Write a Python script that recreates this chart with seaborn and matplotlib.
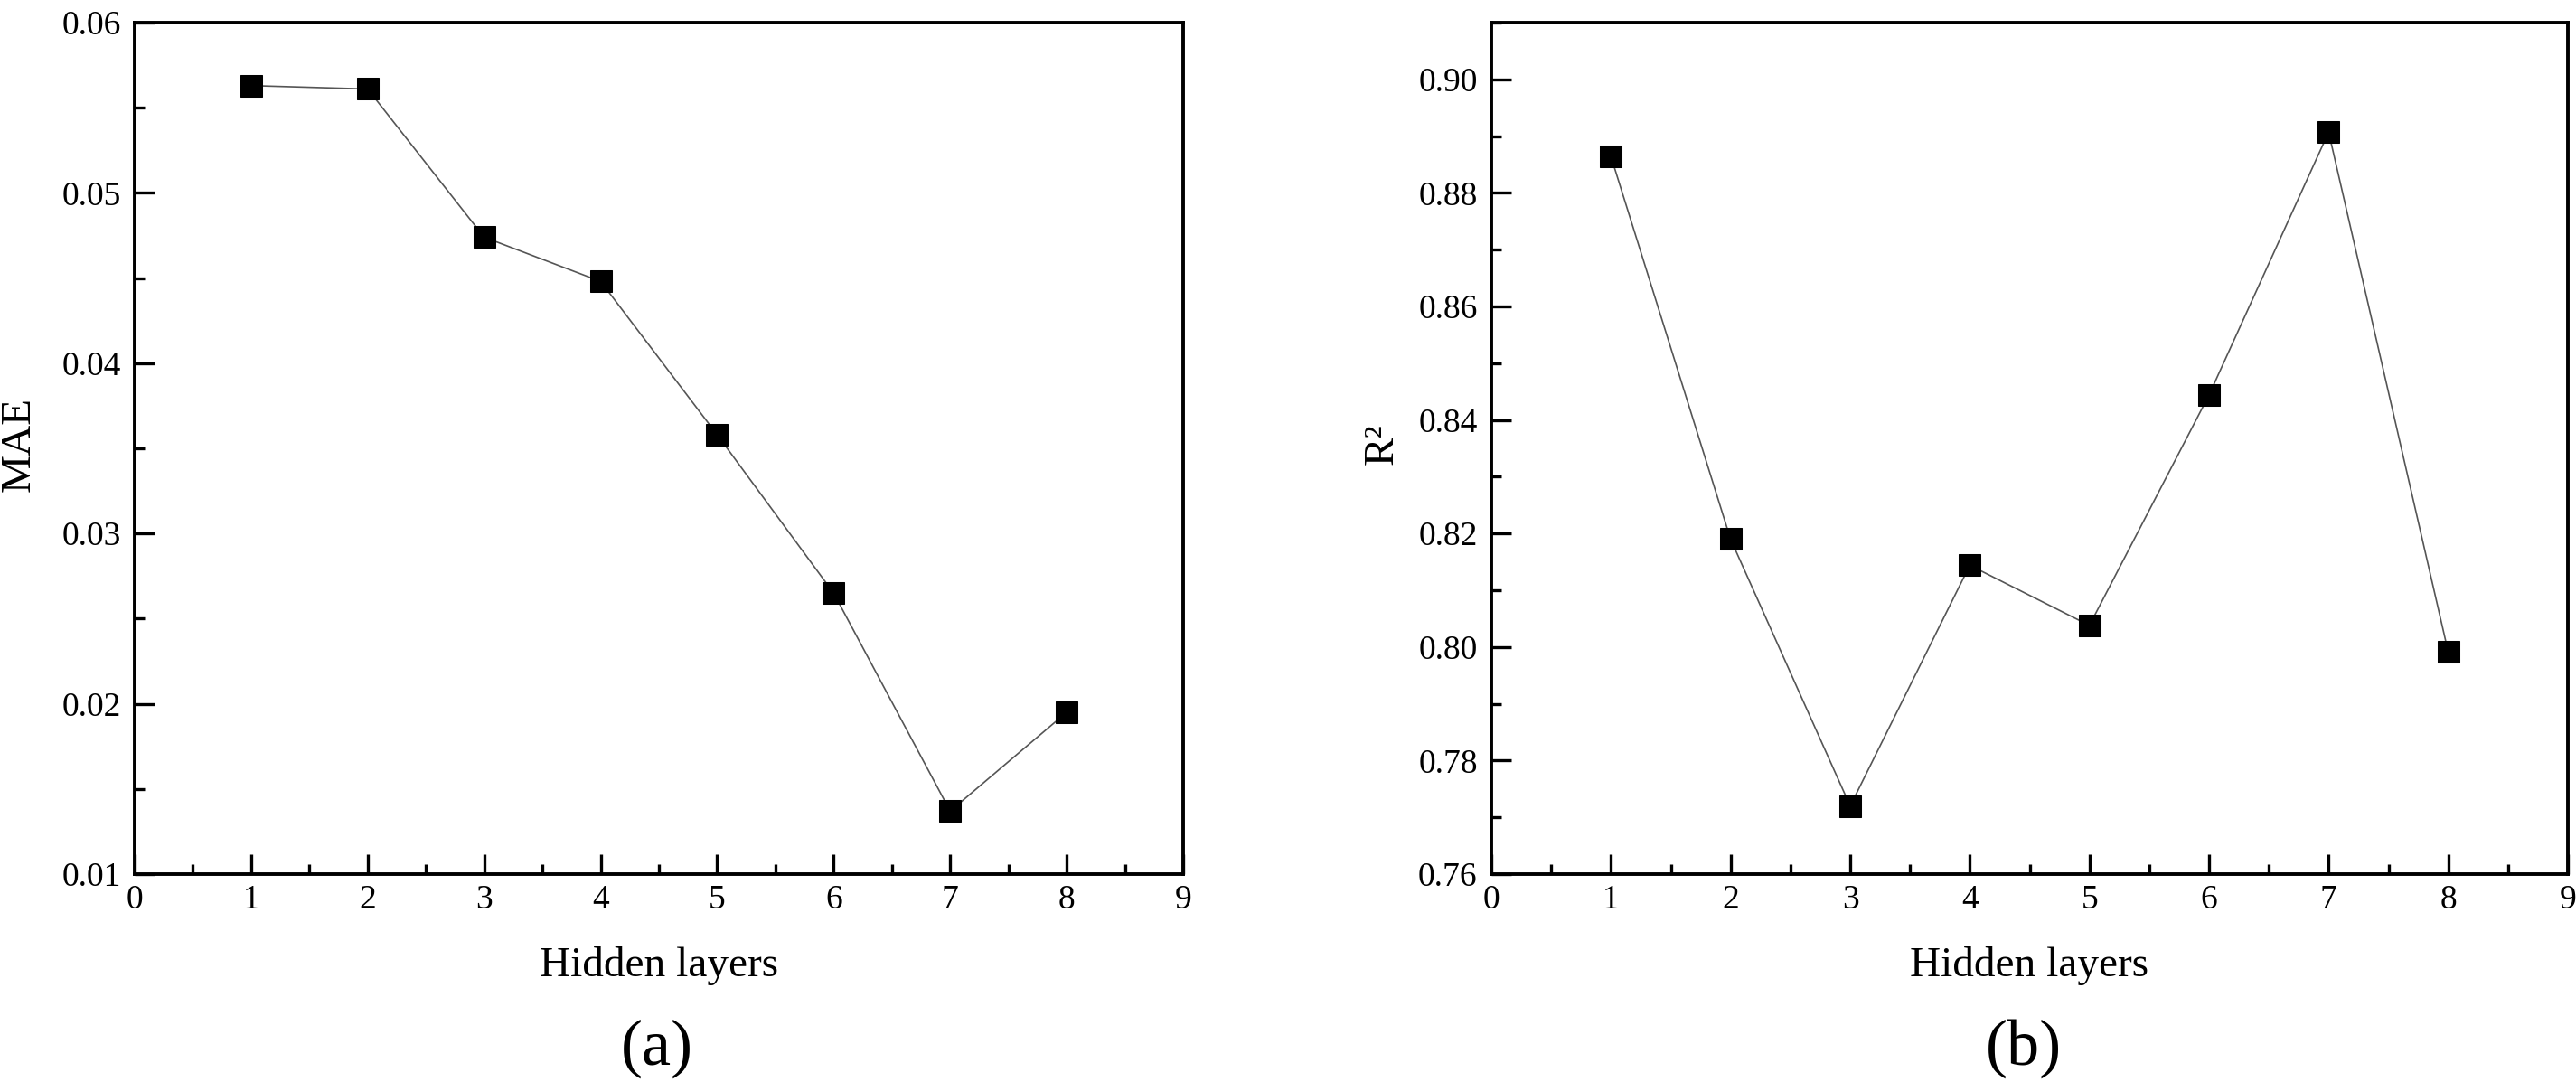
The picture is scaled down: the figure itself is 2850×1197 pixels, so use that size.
"""
Hidden layers vs MAE / R2 - two panel line chart, saved to out.png
"""

import pandas as pd
import matplotlib.pyplot as plt
from matplotlib.ticker import MultipleLocator
import seaborn as sns

layers = [1, 2, 3, 4, 5, 6, 7, 8]
mae = [0.0563, 0.0561, 0.0474, 0.0448, 0.0358, 0.0265, 0.0137, 0.0195]
r2 = [0.8864, 0.8190, 0.7720, 0.8144, 0.8038, 0.8444, 0.8907, 0.7991]

sns.set_style("ticks")
plt.rcParams["font.family"] = ["Liberation Serif", "DejaVu Serif"]
plt.rcParams["text.color"] = "black"
plt.rcParams["axes.labelcolor"] = "black"

df = pd.DataFrame({"layers": layers, "MAE": mae, "R2": r2})

W, H = 2850, 1197
fig = plt.figure(figsize=(W / 100, H / 100), dpi=100)


def px_axes(x0, y0, x1, y1):
    return fig.add_axes([x0 / W, 1 - y1 / H, (x1 - x0) / W, (y1 - y0) / H])


def style_axes(ax, ymin, ymax, ymajor, yfmt):
    ax.set_xlim(0, 9)
    ax.set_ylim(ymin, ymax)
    ax.xaxis.set_major_locator(MultipleLocator(1))
    ax.xaxis.set_minor_locator(MultipleLocator(0.5))
    ax.yaxis.set_major_locator(MultipleLocator(ymajor))
    ax.yaxis.set_minor_locator(MultipleLocator(ymajor / 2))
    ax.yaxis.set_major_formatter(yfmt)
    ax.tick_params(which="both", direction="in", top=False, right=False,
                   width=2.4, colors="black", labelsize=27)
    ax.tick_params(which="major", length=16)
    ax.tick_params(which="minor", length=8)
    ax.tick_params(axis="x", pad=8)
    ax.tick_params(axis="y", pad=11)
    for s in ax.spines.values():
        s.set_visible(True)
        s.set_linewidth(2.8)
        s.set_color("black")


def draw(ax, col):
    sns.lineplot(data=df, x="layers", y=col, ax=ax, color="#555555",
                 linewidth=1.2, marker="s", markersize=17,
                 markerfacecolor="black", markeredgecolor="black")


ax1 = px_axes(149, 25, 1309, 967)
draw(ax1, "MAE")
style_axes(ax1, 0.01, 0.06, 0.01, "{x:.2f}")
ax1.set_xlabel("Hidden layers", fontsize=34, va="center")
ax1.set_ylabel("MAE", fontsize=34, va="center")
ax1.xaxis.set_label_coords(0.5, -0.108)
ax1.yaxis.set_label_coords(-0.11, 0.505)

ax2 = px_axes(1650, 25, 2841, 967)
draw(ax2, "R2")
style_axes(ax2, 0.76, 0.91, 0.02, "{x:.2f}")
ax2.set_xlabel("Hidden layers", fontsize=34, va="center")
ax2.set_ylabel("R²", fontsize=34, va="center")
ax2.xaxis.set_label_coords(0.5, -0.108)
ax2.yaxis.set_label_coords(-0.101, 0.505)

fig.text(727 / W, 1 - 1160 / H, "(a)", fontsize=52, ha="center", va="center")
fig.text(2239 / W, 1 - 1160 / H, "(b)", fontsize=52, ha="center", va="center")

fig.savefig("out.png", dpi=100, facecolor="white")
plt.close(fig)
